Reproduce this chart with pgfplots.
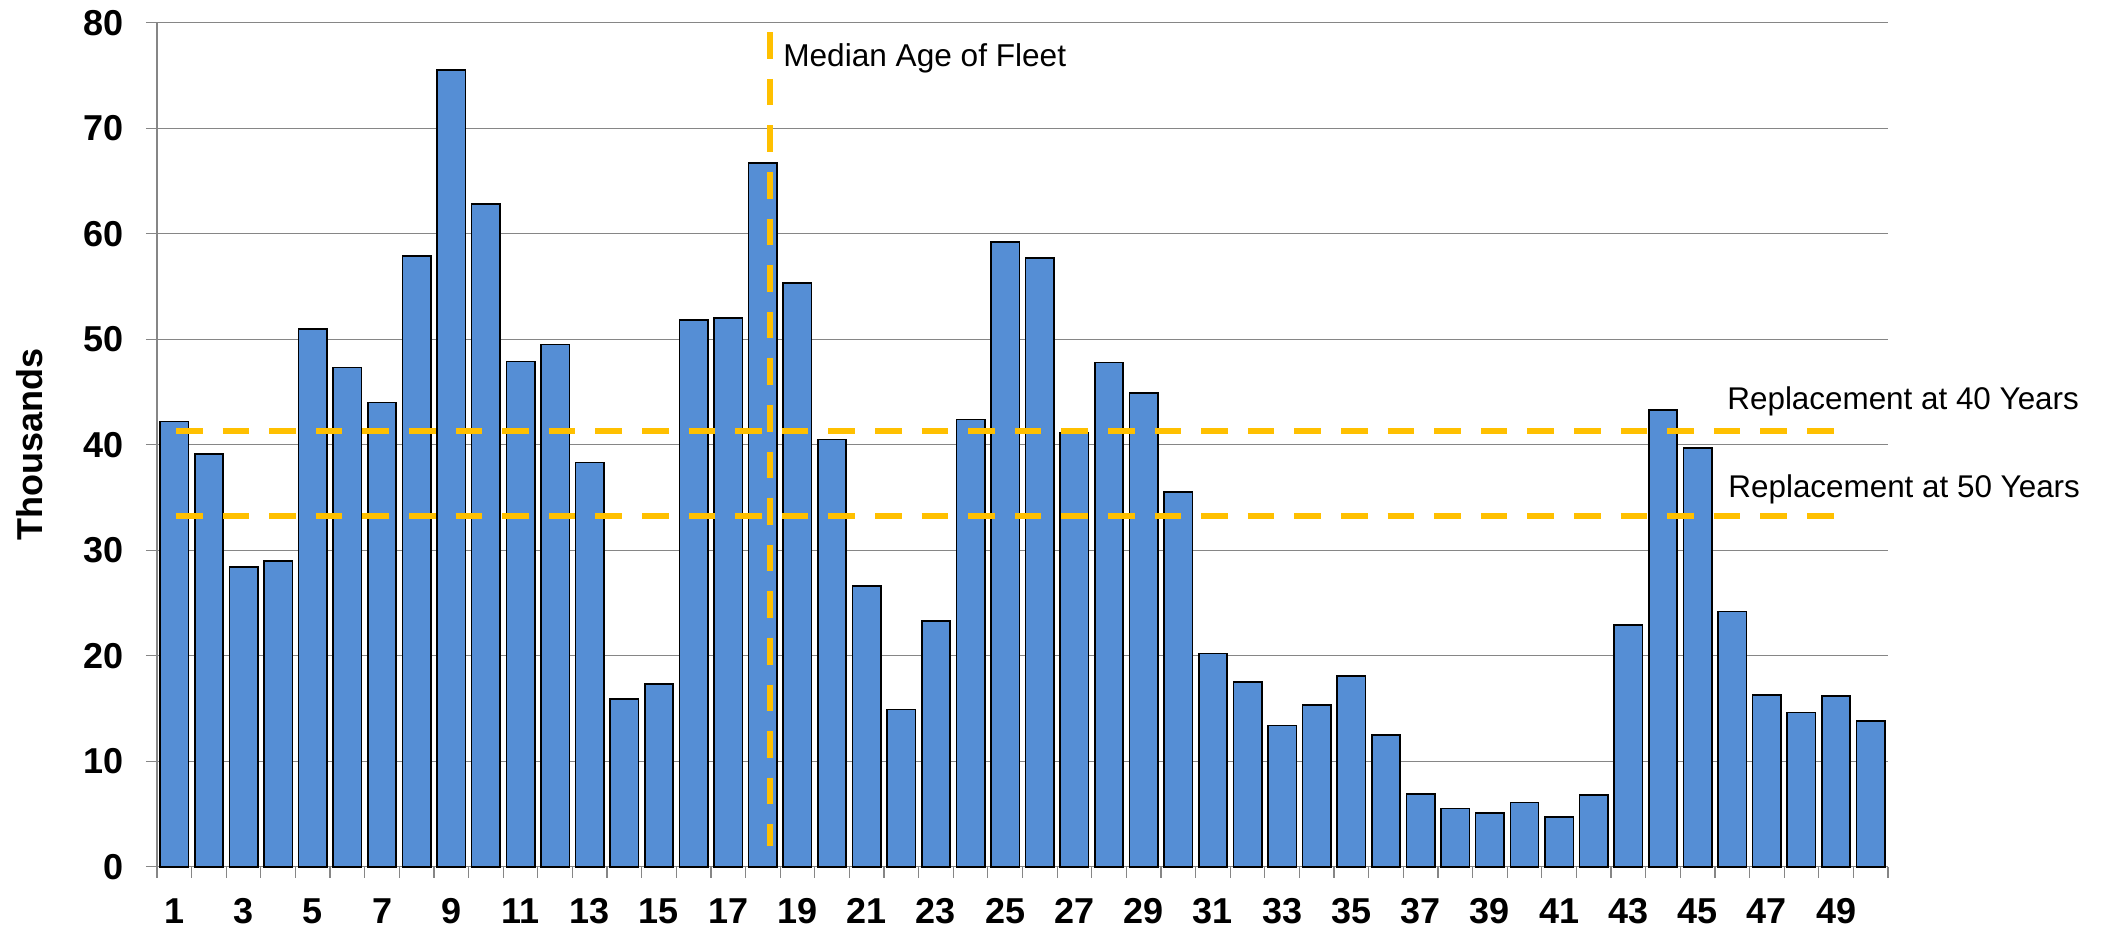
\documentclass[border=0pt]{standalone}
\usepackage{fontspec}
\setmainfont{Liberation Sans}
\usepackage{pgfplots}
\pgfplotsset{compat=1.18}
\definecolor{barblue}{RGB}{85,142,213}
\definecolor{gold}{RGB}{255,192,0}
\definecolor{gridgray}{RGB}{134,134,134}
\begin{document}
\begin{tikzpicture}
\path[use as bounding box] (-78.5bp,-31.65bp) rectangle (978bp,433.35bp);
\begin{axis}[
  scale only axis, width=865.5bp, height=422bp,
  at={(0,0)}, anchor=south west,
  xmin=0.5, xmax=50.5, ymin=0, ymax=80,
  axis x line=bottom, axis y line=left,
  axis line style={-, gridgray, line width=0.75bp},
  ytick={0,10,...,80},
  xtick={1,3,...,49},
  minor xtick={0.5,1.5,...,50.5},
  ymajorgrids, major grid style={gridgray, line width=0.6bp},
  tick align=outside,
  major tick length=5.5bp, minor tick length=5.5bp,
  tick style={gridgray, line width=0.6bp},
  major x tick style={draw=none},
  /pgf/number format/assume math mode=true,
  ticklabel style={font=\fontsize{18bp}{20bp}\selectfont\bfseries, inner sep=0pt},
  xticklabel shift=10.3bp, yticklabel shift=11bp,
  clip=false,
]
\addplot[ybar, bar width=0.82, bar shift=0pt, fill=barblue, draw=black, line width=0.8bp] coordinates {
(1,42.2) (2,39.1) (3,28.4) (4,29.0) (5,50.95) (6,47.3) (7,44.0) (8,57.9) (9,75.5) (10,62.8)
(11,47.9) (12,49.5) (13,38.3) (14,15.9) (15,17.3) (16,51.8) (17,52.0) (18,66.7) (19,55.3) (20,40.5)
(21,26.6) (22,14.9) (23,23.3) (24,42.4) (25,59.2) (26,57.7) (27,41.1) (28,47.8) (29,44.9) (30,35.5)
(31,20.2) (32,17.5) (33,13.4) (34,15.3) (35,18.1) (36,12.5) (37,6.9) (38,5.5) (39,5.1) (40,6.1)
(41,4.7) (42,6.8) (43,22.9) (44,43.3) (45,39.7) (46,24.2) (47,16.3) (48,14.6) (49,16.2) (50,13.8)
};
\addplot[gold, mark=none, line width=3bp, dash pattern=on 13.3bp off 10bp] coordinates {(1.049,41.32) (49.0,41.32)};
\addplot[gold, mark=none, line width=3bp, dash pattern=on 13.3bp off 10bp] coordinates {(1.049,33.23) (49.0,33.23)};
\addplot[gold, mark=none, line width=3bp, dash pattern=on 13.3bp off 10bp] coordinates {(18.21,79.1) (18.21,1.95)};
\node[anchor=base west, inner sep=0pt, font=\fontsize{15.8bp}{18bp}\selectfont] at (axis cs:18.58,75.84) {Median Age of Fleet};
\node[anchor=base west, inner sep=0pt, font=\fontsize{15.7bp}{18bp}\selectfont] at (axis cs:45.85,43.3) {Replacement at 40 Years};
\node[anchor=base west, inner sep=0pt, font=\fontsize{15.7bp}{18bp}\selectfont] at (axis cs:45.88,34.96) {Replacement at 50 Years};
\node[rotate=90, inner sep=0pt, font=\fontsize{18bp}{20bp}\selectfont\bfseries] at ([xshift=-63.5bp]axis description cs:0,0.5) {Thousands};
\end{axis}
\end{tikzpicture}
\end{document}
